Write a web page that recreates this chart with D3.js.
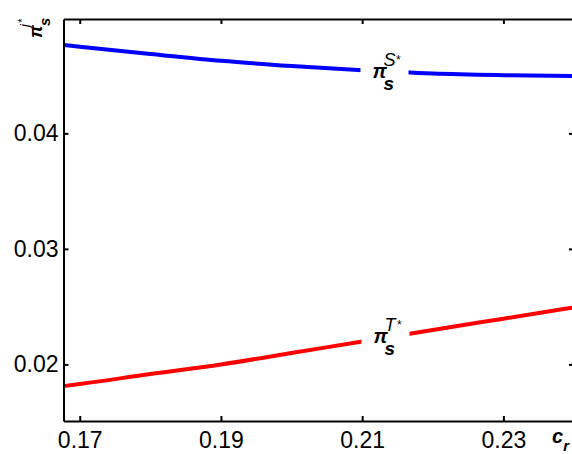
<!DOCTYPE html>
<html>
<head>
<meta charset="utf-8">
<script src="https://cdn.jsdelivr.net/npm/d3@7"></script>
<style>
  body { margin: 0; background: #fff; overflow: hidden; }
  svg { display: block; }
</style>
</head>
<body>
<script>
// values
const cr = [0.1677, 0.17, 0.18, 0.19, 0.20, 0.21, 0.22, 0.23, 0.24];
const piS = [0.04765, 0.0475, 0.04688, 0.04628, 0.04583, 0.04546, 0.04518, 0.04504, 0.04496];
const piT = [0.01812, 0.0183, 0.01917, 0.0200, 0.02098, 0.02199, 0.02298, 0.02396, 0.02494];
const xTicks = [0.17, 0.19, 0.21, 0.23];
const yTicks = [0.02, 0.03, 0.04];

const W = 572, H = 454;
const mLeft = 63.5, mRight = 574, mTop = 19, mBottom = 421;

const svg = d3.select("body").append("svg")
    .attr("width", W)
    .attr("height", H);

const x = d3.scaleLinear([0.1677, 0.24], [mLeft, mRight]);
const y = d3.scaleLinear([0.0151, 0.0499], [mBottom, mTop]);

const line = d3.line()
    .x(d => x(d[0]))
    .y(d => y(d[1]))
    .curve(d3.curveMonotoneX);

// series
svg.append("path")
    .datum(d3.zip(cr, piS))
    .attr("fill", "none")
    .attr("stroke", "#0000ff")
    .attr("stroke-width", 4)
    .attr("d", line);

svg.append("path")
    .datum(d3.zip(cr, piT))
    .attr("fill", "none")
    .attr("stroke", "#ff0000")
    .attr("stroke-width", 4)
    .attr("d", line);

// in-line labels (white box cuts the line like matlab text)
const labels = [
    { x: 0.21146, y: 0.04479, sup: "S" },
    { x: 0.2116, y: 0.02187, sup: "T" }
];

const lab = svg.selectAll("g.lab")
    .data(labels)
    .enter()
    .append("g")
    .attr("class", "lab")
    .attr("transform", d => `translate(${x(d.x)},${y(d.y)})`);

lab.append("rect")
    .attr("x", -12)
    .attr("y", -28)
    .attr("width", 48)
    .attr("height", 44)
    .attr("fill", "#fff");

const lt = lab.append("text")
    .attr("font-family", "Liberation Sans, Arial, sans-serif")
    .attr("font-style", "italic")
    .attr("fill", "#000");
lt.append("tspan")
    .attr("x", 0).attr("y", 0)
    .attr("font-size", 20)
    .attr("font-weight", "bold")
    .text("π");
lt.append("tspan")
    .attr("x", 11).attr("y", -12)
    .attr("font-size", 18)
    .text(d => d.sup);
lt.append("tspan")
    .attr("x", 23).attr("y", -14)
    .attr("font-size", 12)
    .text("*");
lt.append("tspan")
    .attr("x", 11).attr("y", 12)
    .attr("font-size", 19)
    .attr("font-weight", "bold")
    .text("s");

// axes
function styleAxis(g) {
    g.select(".domain").attr("stroke", "#000").attr("stroke-width", 2);
    g.selectAll(".tick line").attr("stroke", "#000").attr("stroke-width", 2);
    g.selectAll(".tick text")
        .attr("fill", "#000")
        .attr("font-family", "Liberation Sans, Arial, sans-serif")
        .attr("font-size", 23);
}

svg.append("g")
    .attr("transform", `translate(0,${mBottom})`)
    .call(d3.axisBottom(x).tickValues(xTicks).tickFormat(d3.format(".2f"))
        .tickSizeInner(-5).tickSizeOuter(0).tickPadding(11))
    .call(styleAxis);

svg.append("g")
    .attr("transform", `translate(0,${mTop})`)
    .call(d3.axisTop(x).tickValues(xTicks).tickFormat("")
        .tickSizeInner(-5).tickSizeOuter(0))
    .call(styleAxis);

svg.append("g")
    .attr("transform", `translate(${mLeft},0)`)
    .call(d3.axisLeft(y).tickValues(yTicks).tickFormat(d3.format(".2f"))
        .tickSizeInner(-5).tickSizeOuter(0).tickPadding(5))
    .call(styleAxis);

svg.append("g")
    .attr("transform", `translate(${mRight},0)`)
    .call(d3.axisRight(y).tickValues(yTicks).tickFormat("")
        .tickSizeInner(-5).tickSizeOuter(0))
    .call(styleAxis);

// axis titles
svg.append("text")
    .attr("x", 552).attr("y", 443)
    .attr("font-family", "Liberation Sans, Arial, sans-serif")
    .attr("font-style", "italic")
    .attr("font-weight", "bold")
    .attr("font-size", 20)
    .text("c")
    .append("tspan")
    .attr("dy", 8)
    .attr("font-size", 15)
    .text("r");

const yl = svg.append("text")
    .attr("transform", "translate(42,38) rotate(-90)")
    .attr("font-family", "Liberation Sans, Arial, sans-serif")
    .attr("font-style", "italic")
    .attr("fill", "#000");
yl.append("tspan").attr("x", 0).attr("y", 0)
    .attr("font-size", 18).attr("font-weight", "bold").text("π");
yl.append("tspan").attr("x", 12).attr("y", 8)
    .attr("font-size", 15).attr("font-weight", "bold").text("s");
yl.append("tspan").attr("x", 11).attr("y", -13)
    .attr("font-size", 13).text("j");
yl.append("tspan").attr("x", 15).attr("y", -16)
    .attr("font-size", 10).text("*");
</script>
</body>
</html>
